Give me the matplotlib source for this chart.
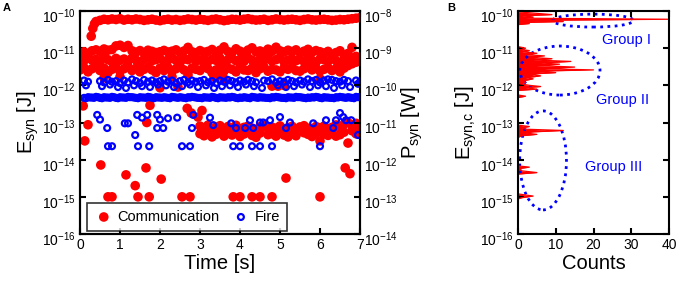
import numpy as np
import matplotlib
matplotlib.use("Agg")
import matplotlib.pyplot as plt
from matplotlib.ticker import FixedLocator, NullLocator, LogFormatterSciNotation
from matplotlib.patches import Ellipse
from matplotlib.transforms import ScaledTranslation

plt.rcParams['font.family'] = ['Liberation Sans', 'DejaVu Sans']
plt.rcParams['mathtext.fontset'] = 'custom'
plt.rcParams['mathtext.rm'] = 'Liberation Sans'
plt.rcParams['mathtext.default'] = 'regular'

# ---------------- panel A: communication (red) ----------------
top_t = [0.28, 0.32, 0.36,
         0.4, 0.5, 0.6, 0.7, 0.8, 0.9, 1.0, 1.1, 1.2, 1.3,
         1.4, 1.5, 1.6, 1.7, 1.8, 1.9, 2.0, 2.1, 2.2, 2.3,
         2.4, 2.5, 2.6, 2.7, 2.8, 2.9, 3.0, 3.1, 3.2, 3.3,
         3.4, 3.5, 3.6, 3.7, 3.8, 3.9, 4.0, 4.1, 4.2, 4.3,
         4.4, 4.5, 4.6, 4.7, 4.8, 4.9, 5.0, 5.1, 5.2, 5.3,
         5.4, 5.5, 5.6, 5.7, 5.8, 5.9, 6.0, 6.1, 6.2, 6.3,
         6.4, 6.5, 6.6, 6.7, 6.8, 6.9, 7.0]
top_e = np.array([2.1, 3.4, 4.5,
                  5.2, 5.6, 6.0, 5.8, 6.1, 5.9, 6.2, 5.7, 6.0, 5.8,
                  6.1, 5.9, 5.6, 5.8, 6.0, 5.7, 5.5, 5.8, 6.0, 5.7,
                  5.9, 5.6, 5.8, 6.1, 5.9, 5.7, 6.0, 5.8, 5.6, 5.9,
                  6.1, 5.8, 5.5, 5.7, 6.0, 5.9, 5.7, 6.0, 6.2, 5.9,
                  5.7, 5.8, 6.0, 5.6, 5.8, 6.1, 5.9, 5.7, 5.9, 6.0,
                  5.8, 5.6, 5.9, 6.1, 5.8, 5.7, 5.9, 6.0, 5.8, 5.6,
                  5.7, 5.9, 5.8, 6.0, 6.2, 6.4, 6.6]) * 1e-11

cloud_t = [0.0, 0.1, 0.2, 0.3, 0.4, 0.5, 0.6, 0.7, 0.8, 0.9,
           1.0, 1.1, 1.2, 1.3, 1.4, 1.5, 1.6, 1.7, 1.8, 1.9,
           2.0, 2.1, 2.2, 2.3, 2.4, 2.5, 2.6, 2.7, 2.8, 2.9,
           3.0, 3.1, 3.2, 3.3, 3.4, 3.5, 3.6, 3.7, 3.8, 3.9,
           4.0, 4.1, 4.2, 4.3, 4.4, 4.5, 4.6, 4.7, 4.8, 4.9,
           5.0, 5.1, 5.2, 5.3, 5.4, 5.5, 5.6, 5.7, 5.8, 5.9,
           6.0, 6.1, 6.2, 6.3, 6.4, 6.5, 6.6, 6.7, 6.8, 6.9,
           7.0]
cloud_hi = np.array([7.5, 8.0, 7.0, 8.5, 9.0, 8.2, 9.5, 8.8, 9.2, 11.5,
                     12.0, 10.5, 11.8, 8.5, 7.8, 8.6, 7.5, 8.8, 8.2, 7.6,
                     8.0, 8.7, 7.9, 8.3, 9.0, 7.7, 8.4, 10.5, 8.0, 7.5,
                     8.6, 7.8, 8.2, 9.2, 7.6, 8.8, 10.8, 8.1, 7.7, 9.6,
                     8.3, 7.6, 8.9, 10.2, 8.0, 8.4, 7.8, 9.4, 8.2, 10.6,
                     8.5, 7.9, 8.8, 8.1, 9.0, 7.5, 8.3, 9.3, 7.8, 8.6,
                     8.0, 7.4, 8.2, 6.8, 7.6, 8.5, 6.5, 7.2, 10.5, 6.0,
                     5.5]) * 1e-12
cloud_mid = np.array([5.2, 4.6, 5.5, 4.8, 5.0, 4.4, 5.6, 4.9, 4.3, 5.3,
                      4.7, 5.1, 4.5, 5.4, 4.8, 4.2, 5.0, 5.6, 4.6, 4.9,
                      5.3, 4.4, 4.8, 5.5, 4.7, 4.2, 5.1, 4.9, 5.6, 4.5,
                      4.8, 5.2, 4.4, 5.0, 4.7, 5.4, 4.3, 4.9, 5.3, 4.6,
                      5.0, 4.4, 5.5, 4.8, 4.2, 5.1, 4.7, 5.3, 4.5, 4.9,
                      5.6, 4.3, 4.8, 5.2, 4.6, 5.0, 4.4, 5.4, 4.7, 4.2,
                      5.1, 4.9, 4.5, 5.3, 4.6, 4.1, 4.8, 5.2, 4.4, 4.7,
                      5.0]) * 1e-12
cloud_lo = np.array([2.6, 3.0, 2.3, 2.8, 3.1, 2.5, 2.9, 2.2, 2.7, 3.0,
                     2.4, 2.8, 3.2, 2.5, 2.9, 2.3, 2.7, 3.1, 2.6, 2.2,
                     2.9, 2.5, 3.0, 2.4, 2.8, 3.2, 2.6, 2.3, 2.9, 2.7,
                     2.5, 3.1, 2.8, 2.2, 2.6, 3.0, 2.4, 2.9, 2.7, 2.3,
                     3.0, 2.6, 2.5, 2.9, 2.2, 2.8, 3.1, 2.4, 2.7, 2.6,
                     2.3, 2.9, 2.7, 3.0, 2.5, 2.4, 2.8, 3.2, 2.6, 2.9,
                     2.4, 2.7, 3.0, 2.5, 2.8, 2.3, 2.9, 3.4, 3.8, 4.2,
                     4.5]) * 1e-12

low_t = [3.0, 3.1, 3.2, 3.3, 3.4, 3.5, 3.6, 3.7, 3.8, 3.9,
         4.0, 4.1, 4.2, 4.3, 4.4, 4.5, 4.6, 4.7, 4.8, 4.9,
         5.0, 5.1, 5.2, 5.3, 5.4, 5.5, 5.6, 5.7, 5.8, 5.9,
         6.0, 6.1, 6.2, 6.3, 6.4, 6.5, 6.6, 6.7, 6.8, 6.9,
         7.0]
low_a = np.array([8.0, 7.2, 8.5, 6.8, 7.5, 8.2, 6.5, 7.8, 7.0, 8.4,
                  6.6, 7.4, 8.0, 7.1, 6.4, 7.7, 8.3, 6.9, 7.5, 7.0,
                  8.1, 6.7, 7.3, 7.9, 6.5, 7.6, 8.2, 7.0, 6.6, 7.8,
                  7.2, 8.0, 6.8, 7.4, 8.6, 7.1, 9.0, 10.0, 8.5, 9.5,
                  8.0]) * 1e-14
low_b = np.array([5.0, 4.4, 5.4, 4.1, 4.8, 5.6, 4.3, 5.1, 4.6, 5.3,
                  4.2, 4.9, 5.5, 4.5, 4.0, 5.2, np.nan, 4.7, 5.0, 4.3,
                  5.4, 4.6, 4.1, 5.0, 4.4, np.nan, 5.3, 4.8, 4.2, 5.1,
                  3.2, 4.9, 4.5, 5.2, 4.3, 4.7, 5.5, 2.8, 6.0, 5.0,
                  4.8]) * 1e-14

misc_t = [2.0, 2.3, 2.45, 4.8, 4.95, 5.1, 3.45, 3.6, 3.35, 2.7, 1.0, 0.6, 6.0,
          0.08, 1.75, 2.68, 2.78, 2.95, 3.05, 1.67, 0.2, 0.12,
          0.52, 1.15, 1.38, 1.65, 2.03, 5.15, 6.63, 6.75,
          0.7, 0.8, 1.45, 1.73, 2.55, 2.75, 3.83, 4.0, 4.3, 4.5, 4.8, 6.0]
misc_e = [8.6e-13, 1.7e-12, 9e-13, 9.5e-13, 9.5e-13, 1.0e-12, 1.8e-12, 1.5e-12, 1.7e-12, 1.9e-12, 1.7e-12, 1.6e-12, 1.5e-12,
          2.8e-13, 2.9e-13, 2.4e-13, 1.8e-13, 1.4e-13, 2.1e-13, 1.0e-13, 8.7e-14, 3.2e-14,
          7.2e-15, 3.9e-15, 2.0e-15, 6.0e-15, 3.0e-15, 3.2e-15, 6.0e-15, 4.2e-15,
          1e-15, 1e-15, 1e-15, 1e-15, 1e-15, 1e-15, 1e-15, 1e-15, 1e-15, 1e-15, 1e-15, 1e-15]

# ---------------- panel A: fire (blue) ----------------
fire_line_e = np.array([4.6, 4.8, 4.7, 4.9, 4.6, 4.8, 4.7, 4.9, 4.6, 4.8,
                        4.7, 4.9, 4.8, 4.6, 4.8, 4.7, 4.9, 4.6, 4.8, 4.7,
                        4.8, 4.6, 4.9, 4.7, 4.8, 4.6, 4.8, 4.9, 4.7, 4.6,
                        4.8, 4.7, 4.9, 4.6, 4.8, 4.7, 4.8, 4.9, 4.6, 4.7,
                        4.8, 4.6, 4.9, 4.7, 4.8, 4.7, 4.6, 4.8, 4.9, 4.7,
                        4.6, 4.8, 4.7, 4.9, 4.8, 4.6, 4.7, 4.8, 4.9, 4.6,
                        4.8, 4.7, 4.6, 4.8, 4.9, 4.7, 4.8, 4.6, 4.9, 4.8]) * 1e-13
fire_line2_t = [0.15, 0.25, 0.35, 0.45, 0.55, 0.65, 0.75, 0.85, 0.95, 1.05,
                1.15, 1.25, 1.35, 1.45, 1.55, 1.65, 1.75, 1.85, 1.95, 2.05,
                2.15, 2.25, 2.35, 2.45, 2.55, 2.65, 2.75, 2.85, 2.95, 3.05,
                3.15, 3.25, 3.35, 3.45, 3.55, 3.65, 3.75, 3.85, 3.95, 4.05,
                4.15, 4.25, 4.35, 4.45, 4.55, 4.65, 4.75, 4.85, 4.95, 5.05,
                5.15, 5.25, 5.35, 5.45, 5.55, 5.65, 5.75, 5.85, 5.95, 6.05,
                6.15, 6.25, 6.35, 6.45, 6.55, 6.65, 6.75, 6.85, 6.95]
fire_line2_e = np.array([4.5, 4.7, 4.6, 4.8, 4.5, 4.7, 4.6, 4.8, 4.5, 4.7,
                         4.6, 4.8, 4.7, 4.5, 4.7, 4.6, 4.8, 4.5, 4.7, 4.6,
                         4.7, 4.5, 4.8, 4.6, 4.7, 4.5, 4.7, 4.8, 4.6, 4.5,
                         4.7, 4.6, 4.8, 4.5, 4.7, 4.6, 4.7, 4.8, 4.5, 4.6,
                         4.7, 4.5, 4.8, 4.6, 4.7, 4.6, 4.5, 4.7, 4.8, 4.6,
                         4.5, 4.7, 4.6, 4.8, 4.7, 4.5, 4.6, 4.7, 4.8, 4.5,
                         4.7, 4.6, 4.5, 4.7, 4.8, 4.6, 4.7, 4.5, 4.8]) * 1e-13
fire_band_e = np.array([1.35, 1.25, np.nan, np.nan, 1.3, 1.2, 1.4, 1.25, 1.3, 1.15,
                        1.35, 1.2, 1.45, 1.3, 1.15, 1.4, 1.25, 1.35, 1.2, 1.3,
                        1.45, 1.25, 1.35, 1.15, 1.3, 1.4, 1.2, 1.35, 1.25, 1.3,
                        1.4, 1.2, 1.3, 1.15, 1.35, 1.25, 1.4, 1.3, 1.2, 1.35,
                        1.25, 1.4, 1.3, 1.2, np.nan, 1.35, 1.3, 1.45, 1.2, 1.3,
                        1.25, 1.4, 1.3, 1.2, 1.35, 1.25, 1.45, 1.3, 1.4, 1.2,
                        1.35, 1.45, 1.4, 1.3, 1.25, 1.4, 1.3, np.nan, 1.35, 1.25]) * 1e-12
fire_band2_t = [0.15, 0.35, 0.55, 0.75, 0.95, 1.15, 1.35, 1.55, 1.75, 1.95,
                2.15, 2.35, 2.55, 2.75, 2.95, 3.15, 3.35, 3.55, 3.75, 3.95,
                4.15, 4.35, 4.55, 4.75, 4.95, 5.15, 5.35, 5.55, 5.75, 5.95,
                6.15, 6.35, 6.55, 6.75, 6.95]
fire_band2_e = np.array([1.0, np.nan, 0.95, 1.05, 0.9, 0.85, 1.0, 0.95, 0.9, 1.05,
                         1.0, 0.9, 0.95, 1.05, 0.9, 1.0, 0.85, 0.95, 1.0, 0.9,
                         1.05, 0.95, 0.85, np.nan, 1.0, 0.9, 0.95, 1.05, 0.9, 1.0,
                         0.95, 0.85, 1.0, 0.9, 1.1]) * 1e-12
fire_low_t = [0.43, 0.5, 0.68, 1.12, 1.2, 1.38, 1.43, 1.55, 1.68, 1.93, 2.0, 1.93, 2.08, 2.2,
              2.43, 2.8, 2.83, 3.25, 3.33, 3.78, 3.9, 4.13, 4.25, 4.33, 4.5, 4.58, 4.75,
              5.0, 5.15, 5.25, 5.83, 6.15, 6.33, 6.4, 6.5, 6.58, 6.65, 6.78, 6.95,
              0.7, 0.8, 1.45, 1.73, 2.55, 2.75, 3.83, 4.0, 4.3, 4.5, 4.8, 6.0]
fire_low_e = [1.6e-13, 1.2e-13, 7.1e-14, 9.5e-14, 9.5e-14, 4.6e-14, 1.6e-13, 1.35e-13, 1.6e-13, 1.6e-13, 1.2e-13, 7.1e-14, 7.1e-14, 1.3e-13,
              1.35e-13, 7.1e-14, 1.6e-13, 1.35e-13, 8.5e-14, 9.5e-14, 7.1e-14, 7.1e-14, 1.15e-13, 7.1e-14, 1.0e-13, 1.0e-13, 1.15e-13,
              1.4e-13, 7.1e-14, 1.0e-13, 9.5e-14, 1.15e-13, 7.1e-14, 1.15e-13, 1.8e-13, 1.4e-13, 1.15e-13, 1.15e-13, 4.6e-14,
              2.3e-14, 2.3e-14, 2.3e-14, 2.3e-14, 2.3e-14, 2.3e-14, 2.3e-14, 2.3e-14, 2.3e-14, 2.3e-14, 2.3e-14, 2.3e-14]

# ---------------- panel B: histogram of communication energies ----------------
hist_e = [9.5e-11, 8.0e-11, 7.4e-11, 6.9e-11, 6.4e-11, 6.0e-11, 5.6e-11, 5.2e-11, 4.9e-11, 4.6e-11, 4.3e-11,
          1.1e-11, 1.0e-11, 9.2e-12, 8.6e-12, 8.0e-12, 7.3e-12, 6.7e-12, 6.2e-12, 5.7e-12, 5.2e-12,
          4.8e-12, 4.4e-12, 4.0e-12, 3.7e-12, 3.4e-12, 3.1e-12, 2.8e-12, 2.6e-12, 2.4e-12, 2.2e-12,
          2.0e-12, 1.8e-12, 1.6e-12, 1.5e-12, 1.3e-12, 1.2e-12, 1.1e-12, 1.0e-12, 9.3e-13, 8.6e-13,
          7.9e-13, 7.3e-13, 5.5e-13, 5.1e-13, 4.7e-13,
          8.5e-14, 7.8e-14, 7.2e-14, 6.6e-14, 6.1e-14, 5.6e-14, 5.2e-14, 4.8e-14, 4.4e-14, 4.0e-14,
          6.8e-15, 6.3e-15, 5.8e-15, 5.0e-15, 4.5e-15, 4.1e-15,
          1.2e-15, 1.05e-15, 9.5e-16, 8.8e-16]
hist_n = [0, 9, 1, 4, 2, 40, 3, 12, 1, 3, 0,
          0, 2, 1, 3, 1, 5, 2, 7, 3, 9,
          4, 14, 6, 11, 5, 15, 7, 20, 4, 10,
          3, 6, 2, 4, 1, 2, 0.5, 3, 6, 2,
          5, 0, 0, 2, 0,
          0, 3, 1, 2, 12, 4, 2, 5, 1, 0,
          0, 3, 0.5, 1, 5, 0,
          0, 4, 1, 0]

groups = ['Group I', 'Group II', 'Group III']
decades_e = [1e-16, 1e-15, 1e-14, 1e-13, 1e-12, 1e-11, 1e-10]
decades_p = [1e-14, 1e-13, 1e-12, 1e-11, 1e-10, 1e-9, 1e-8]

red = '#ff0000'
blue = '#0000ff'

fig = plt.figure(figsize=(6.8, 2.82), dpi=100)
ax = fig.add_axes([80 / 680, 48 / 282, 280 / 680, 223 / 282])
ax2 = ax.twinx()
axb = fig.add_axes([518 / 680, 48 / 282, 151 / 680, 223 / 282])

kw_red = dict(s=48, c=red, edgecolors='none', zorder=2)
ax.scatter(top_t, top_e, **kw_red)
ax.scatter(cloud_t, cloud_hi, **kw_red)
ax.scatter(cloud_t, cloud_mid, **kw_red)
ax.scatter(cloud_t, cloud_lo, **kw_red)
ax.scatter(low_t, low_a, **kw_red)
ax.scatter(low_t, low_b, **kw_red)
ax.scatter(misc_t, misc_e, **kw_red)

kw_blue = dict(s=18, facecolors='none', edgecolors=blue, linewidths=1.6, zorder=3)
ax.scatter(cloud_t[1:], fire_line_e, **kw_blue)
ax.scatter(fire_line2_t, fire_line2_e, **kw_blue)
ax.scatter(cloud_t[1:], fire_band_e, **kw_blue)
ax.scatter(fire_band2_t, fire_band2_e, **kw_blue)
ax.scatter(fire_low_t, fire_low_e, **kw_blue)

# legend handles
h1 = ax.scatter([], [], s=48, c=red, edgecolors='none')
h2 = ax.scatter([], [], s=18, facecolors='none', edgecolors=blue, linewidths=1.6)
leg = ax.legend([h1, h2], ['Communication', 'Fire'], ncol=2, loc='lower left',
                bbox_to_anchor=(0.025, 0.013), borderaxespad=0, fontsize=10.5, frameon=True,
                fancybox=False, handletextpad=0.3, columnspacing=0.8, borderpad=0.5,
                handlelength=1.3)
leg.get_frame().set_edgecolor('black')
leg.get_frame().set_linewidth(1.2)

ax.set_yscale('log')
ax.set_xlim(0, 7)
ax.set_ylim(1e-16, 1e-10)
ax2.set_yscale('log')
ax2.set_ylim(1e-14, 1e-8)

axb.fill_betweenx(hist_e, 0, hist_n, color=red, lw=0)
axb.plot(hist_n, hist_e, color=red, lw=0.9)
axb.set_yscale('log')
axb.set_ylim(1e-16, 1e-10)
axb.set_xlim(0, 40)

ell = [((0.497, 0.957), 0.536, 0.058), ((0.278, 0.733), 0.53, 0.22), ((0.166, 0.33), 0.31, 0.444)]
for (c, w, h) in ell:
    axb.add_patch(Ellipse(c, w, h, transform=axb.transAxes, fill=False, edgecolor=blue,
                          linestyle=(0, (1, 1.6)), linewidth=2.0, clip_on=False))
axb.text(0.72, 0.87, groups[0], transform=axb.transAxes, color=blue, fontsize=10.5, ha='center', va='center')
axb.text(0.69, 0.60, groups[1], transform=axb.transAxes, color=blue, fontsize=10.5, ha='center', va='center')
axb.text(0.63, 0.30, groups[2], transform=axb.transAxes, color=blue, fontsize=10.5, ha='center', va='center')

ax.yaxis.set_major_locator(FixedLocator(decades_e))
axb.yaxis.set_major_locator(FixedLocator(decades_e))
ax2.yaxis.set_major_locator(FixedLocator(decades_p))
down = ScaledTranslation(0, -3 / 72, fig.dpi_scale_trans)
for a in (ax, ax2, axb):
    for s in a.spines.values():
        s.set_linewidth(1.5)
    a.yaxis.set_minor_locator(NullLocator())
    a.yaxis.set_major_formatter(LogFormatterSciNotation())
    a.tick_params(direction='in', width=1.5, length=4, labelsize=10, pad=3)
    for t in a.yaxis.get_major_ticks():
        t.label1.set_transform(t.label1.get_transform() + down)
        t.label2.set_transform(t.label2.get_transform() + down)

ax.set_xticks([0, 1, 2, 3, 4, 5, 6, 7])
ax.tick_params(axis='x', top=True)
axb.set_xticks([0, 10, 20, 30, 40])
axb.tick_params(axis='x', top=True)
axb.tick_params(axis='y', right=True)

ax.set_xlabel('Time [s]', fontsize=14.5, labelpad=1)
ax.set_ylabel(r'$\mathregular{E_{syn}}$ [J]', fontsize=14.5, labelpad=1)
ax2.set_ylabel(r'$\mathregular{P_{syn}}$ [W]', fontsize=14.5, labelpad=1)
axb.set_xlabel('Counts', fontsize=14.5, labelpad=1)
axb.set_ylabel(r'$\mathregular{E_{syn{,}c}}$ [J]', fontsize=14.5, labelpad=1)

fig.text(3 / 680, 1 - 3 / 282, 'A', fontsize=8, fontweight='bold', va='top', ha='left')
fig.text(447 / 680, 1 - 3 / 282, 'B', fontsize=8, fontweight='bold', va='top', ha='left')

fig.savefig('out.png', dpi=100)
